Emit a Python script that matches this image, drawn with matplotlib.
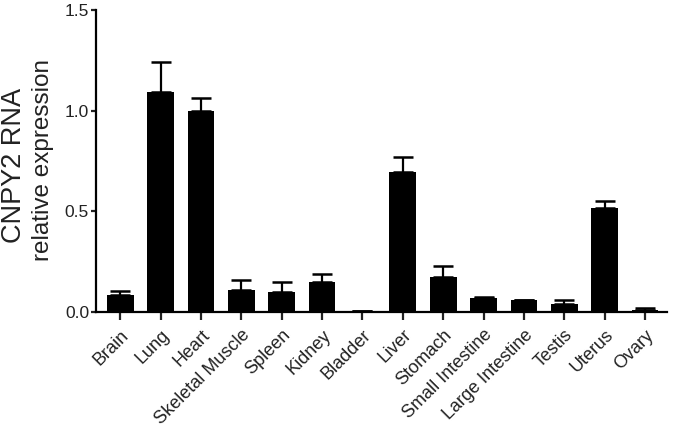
import numpy as np
import matplotlib.pyplot as plt

plt.rcParams['font.family'] = ['Liberation Sans', 'DejaVu Sans']

tissues = ['Brain', 'Lung', 'Heart', 'Skeletal Muscle', 'Spleen', 'Kidney',
           'Bladder', 'Liver', 'Stomach', 'Small Intestine', 'Large Intestine',
           'Testis', 'Uterus', 'Ovary']
expression = [0.085, 1.09, 1.0, 0.11, 0.10, 0.15, 0.005, 0.695, 0.175,
              0.07, 0.058, 0.038, 0.517, 0.012]
sem = [0.02, 0.15, 0.065, 0.05, 0.05, 0.04, 0.0, 0.075, 0.052,
       0.004, 0.0, 0.02, 0.032, 0.006]

fig = plt.figure(figsize=(6.74, 4.32), dpi=100)
ax = fig.add_axes([0.1424, 0.2778, 0.8476, 0.6992])

x = np.arange(len(tissues))
ax.bar(x, expression, width=0.66, color='black', zorder=2)
ax.errorbar(x, expression, yerr=[np.zeros(len(sem)), sem], fmt='none',
            ecolor='black', elinewidth=1.6, capsize=7.5, capthick=1.8, zorder=1)

ax.set_xlim(-0.6, 13.55)
ax.set_ylim(0, 1.5)
ax.set_yticks([0, 0.5, 1.0, 1.5])
ax.set_yticklabels(['0.0', '0.5', '1.0', '1.5'])
ax.set_xticks(x)
ax.set_xticklabels(tissues, rotation=45, ha='right', rotation_mode='anchor')

for s in ['top', 'right']:
    ax.spines[s].set_visible(False)
for s in ['left', 'bottom']:
    ax.spines[s].set_linewidth(1.6)
ax.tick_params(axis='y', width=1.6, length=3.5, pad=1.5, labelsize=12.5,
               colors='#222222')
ax.tick_params(axis='x', width=1.6, length=5.5, pad=5, labelsize=13,
               colors='#222222')

# two-line y label, first line slightly larger as in the original
fig.text(14 / 674, 1 - 165 / 432, 'CNPY2 RNA', rotation=90, fontsize=19.5,
         ha='center', va='center', color='#222222')
fig.text(43 / 674, 1 - 160 / 432, 'relative expression', rotation=90,
         fontsize=17.5, ha='center', va='center', color='#222222')

fig.savefig('out.png', dpi=100)
